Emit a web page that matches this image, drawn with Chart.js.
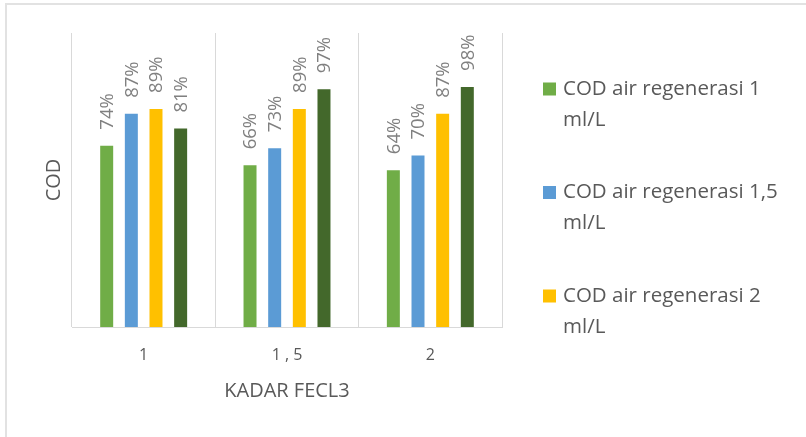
<!DOCTYPE html>
<html>
<head>
<meta charset="utf-8">
<script src="https://cdn.jsdelivr.net/npm/chart.js@4"></script>
<style>
  html, body { margin: 0; padding: 0; background: #ffffff; }
  #wrap { position: relative; width: 806px; height: 437px; overflow: hidden; }
  #frame { position: absolute; left: 5px; top: 3px; width: 900px; height: 500px;
           border-top: 2px solid #e2e2e2; border-left: 2px solid #e2e2e2; }
  canvas { position: absolute; left: 0; top: 0; }
</style>
</head>
<body>
<div id="wrap">
  <div id="frame"></div>
  <canvas id="c" width="806" height="437"></canvas>
</div>
<script>
const categories = ["1", "1 , 5", "2"];
const seriesNames = [
  "COD air regenerasi 1 ml/L",
  "COD air regenerasi 1,5 ml/L",
  "COD air regenerasi 2 ml/L",
  "COD air regenerasi 2,5 ml/L"
];
const series1 = [0.74, 0.66, 0.64];
const series2 = [0.87, 0.73, 0.70];
const series3 = [0.89, 0.89, 0.87];
const series4 = [0.81, 0.97, 0.98];
const seriesColors = ["#70ad47", "#5b9bd5", "#ffc000", "#43682b"];
const legendVisibleCount = 3;
const xTitle = "KADAR FECL3";
const yTitle = "COD";

const FONT = "'Open Sans', 'DejaVu Sans', sans-serif";
const allSeries = [series1, series2, series3, series4];

const labelPlugin = {
  id: 'barLabels',
  afterDatasetsDraw(chart) {
    const ctx = chart.ctx;
    ctx.save();
    ctx.font = "18.5px " + FONT;
    ctx.fillStyle = "#808080";
    ctx.textAlign = "left";
    ctx.textBaseline = "middle";
    chart.data.datasets.forEach((ds, di) => {
      const meta = chart.getDatasetMeta(di);
      meta.data.forEach((bar, i) => {
        const txt = Math.round(ds.data[i] * 100) + "%";
        ctx.save();
        ctx.translate(bar.x + 1, bar.y - 16);
        ctx.rotate(-Math.PI / 2);
        ctx.fillText(txt, 0, 0);
        ctx.restore();
      });
    });
    ctx.restore();
  }
};

function wrapText(ctx, text, maxW) {
  const words = text.split(" ");
  const lines = [];
  let cur = "";
  words.forEach(w => {
    const test = cur ? cur + " " + w : w;
    if (ctx.measureText(test).width > maxW && cur) { lines.push(cur); cur = w; }
    else cur = test;
  });
  if (cur) lines.push(cur);
  return lines;
}

const legendPlugin = {
  id: 'wrapLegend',
  afterDraw(chart) {
    const ctx = chart.ctx;
    ctx.save();
    ctx.font = "20.5px " + FONT;
    ctx.textAlign = "left";
    ctx.textBaseline = "middle";
    const boxX = 543, textX = 563, startY = 89, itemPitch = 103.5, linePitch = 31;
    for (let i = 0; i < legendVisibleCount; i++) {
      const y0 = startY + i * itemPitch;
      ctx.fillStyle = seriesColors[i];
      ctx.fillRect(boxX, y0 - 6.5, 13, 13);
      ctx.fillStyle = "#595959";
      const lines = wrapText(ctx, seriesNames[i], 238);
      lines.forEach((ln, k) => ctx.fillText(ln, textX, y0 + k * linePitch));
    }
    ctx.restore();
  }
};

new Chart(document.getElementById("c"), {
  type: "bar",
  data: {
    labels: categories,
    datasets: allSeries.map((s, i) => ({
      label: seriesNames[i],
      data: s,
      backgroundColor: seriesColors[i],
      borderWidth: 0,
      categoryPercentage: 0.688,
      barPercentage: 0.527
    }))
  },
  options: {
    responsive: false,
    animation: false,
    events: [],
    layout: { padding: { left: 30, right: 304, top: 33, bottom: 20 } },
    plugins: { legend: { display: false }, tooltip: { enabled: false } },
    scales: {
      x: {
        grid: { display: true, color: "#d9d9d9", lineWidth: 1, drawTicks: false, offset: true },
        border: { display: true, color: "#d9d9d9", width: 1 },
        ticks: { color: "#595959", font: { family: FONT, size: 16 }, padding: 19 },
        title: { display: true, text: xTitle, color: "#595959",
                 font: { family: FONT, size: 20 }, padding: { top: 0, bottom: 14 } },
        afterFit(scale) { scale.height = 90; }
      },
      y: {
        min: 0, max: 1.2,
        grid: { display: false },
        border: { display: false },
        ticks: { display: false },
        title: { display: true, text: yTitle, color: "#595959",
                 font: { family: FONT, size: 20 }, padding: { top: 12, bottom: 0 } },
        afterFit(scale) { scale.width = 42; }
      }
    }
  },
  plugins: [labelPlugin, legendPlugin]
});
</script>
</body>
</html>
